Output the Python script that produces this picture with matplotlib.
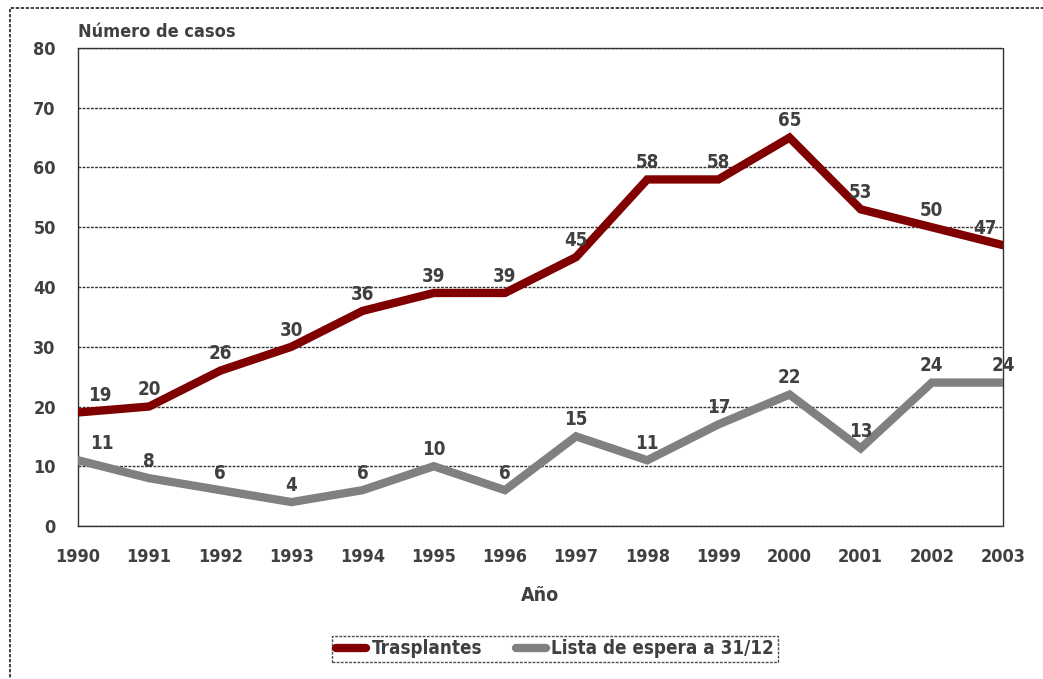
import matplotlib.pyplot as plt
from matplotlib.patches import Rectangle

plt.rcParams["font.family"] = ["Liberation Sans Narrow", "DejaVu Sans"]
plt.rcParams["font.stretch"] = "condensed"

years = list(range(1990, 2004))
trasplantes = [19, 20, 26, 30, 36, 39, 39, 45, 58, 58, 65, 53, 50, 47]
lista_espera = [11, 8, 6, 4, 6, 10, 6, 15, 11, 17, 22, 13, 24, 24]

TEXT = "#404040"
RED = "#800000"
GREY = "#808080"

fig = plt.figure(figsize=(10.43, 6.79), dpi=100)
ax = fig.add_axes([78 / 1043, 1 - 526 / 679, 925 / 1043, 478 / 679])

# outer dashed frame
fig.patches.append(Rectangle((10 / 1043, -0.05), 1.2, 1 - 8 / 679 + 0.05, transform=fig.transFigure,
                             fill=False, edgecolor="#222222", linestyle=(0, (2, 1)), linewidth=1.2))

ax.plot(years, trasplantes, color=RED, linewidth=6, solid_capstyle="round", solid_joinstyle="miter",
        label="Trasplantes", zorder=3)
ax.plot(years, lista_espera, color=GREY, linewidth=6, solid_capstyle="round", solid_joinstyle="miter",
        label="Lista de espera a 31/12", zorder=3)


def labels(values, shifts):
    for i, (x, v) in enumerate(zip(years, values)):
        ax.annotate(str(v), (x, v), xytext=(shifts.get(i, 0), 12), textcoords="offset points",
                    ha="center", va="center", fontsize=13.5, fontweight="bold", color=TEXT, zorder=4)


labels(trasplantes, {0: 16, 13: -13})
labels(lista_espera, {0: 17})

ax.set_xlim(1990, 2003)
ax.set_ylim(0, 80)
ax.set_xticks(years)
ax.set_yticks(range(0, 81, 10))
ax.tick_params(length=0, labelsize=13, labelcolor=TEXT)
ax.tick_params(axis="x", pad=16)
ax.tick_params(axis="y", pad=16)
for lab in ax.get_xticklabels() + ax.get_yticklabels():
    lab.set_fontweight("bold")
ax.grid(axis="y", color="#333333", linestyle=(0, (2, 1)), linewidth=1)
for side in ax.spines.values():
    side.set_linestyle((0, (2, 1)))
    side.set_color("#333333")
    side.set_linewidth(1)

ax.set_xlabel("Año", fontsize=14, fontweight="bold", color=TEXT, labelpad=14)
fig.text(78 / 1043, 1 - 32 / 679, "Número de casos", fontsize=13, fontweight="bold", color=TEXT,
         ha="left", va="center")

leg = fig.legend(loc="center", bbox_to_anchor=(555 / 1043, 1 - 649 / 679), ncol=2, frameon=True,
                 fancybox=False, fontsize=13.5, handlelength=1.6, handletextpad=0.3, columnspacing=1.8,
                 borderpad=0.2)
leg.get_frame().set_edgecolor("#222222")
leg.get_frame().set_linestyle((0, (2, 1)))
leg.get_frame().set_linewidth(1)
for t in leg.get_texts():
    t.set_color(TEXT)
    t.set_fontweight("bold")

fig.savefig("out.png", dpi=100)
